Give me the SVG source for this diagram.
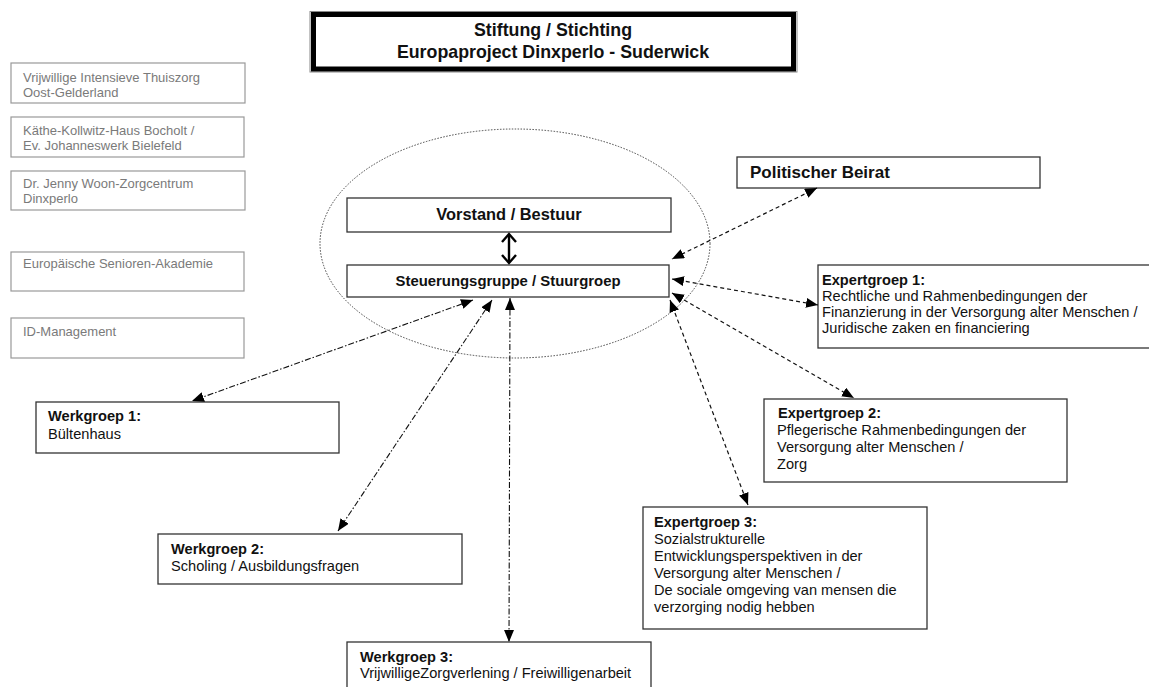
<svg xmlns="http://www.w3.org/2000/svg" width="1149" height="687" viewBox="0 0 1149 687">
<style>
text{font-family:"Liberation Sans",Arial,sans-serif;fill:#111}
.g rect{fill:#fff;stroke:#999;stroke-width:1.2}
.g text{fill:#7a7a7a;font-size:13px}
.b rect{fill:#fff;stroke:#333;stroke-width:1.3}
.t{font-size:14.6px}
.h{font-size:14.6px;font-weight:bold}
.dash{fill:none;stroke:#111;stroke-width:1.2;stroke-dasharray:4 3}
.dd{fill:none;stroke:#111;stroke-width:1.1;stroke-dasharray:6 2 1.5 2}
</style>
<defs>
<marker id="ah" viewBox="0 0 12 10" refX="12" refY="5" markerWidth="12" markerHeight="10" markerUnits="userSpaceOnUse" orient="auto-start-reverse">
<path d="M0,0 L12,5 L0,10 z" fill="#000"/>
</marker>
<clipPath id="c3"><rect x="0" y="171" width="250" height="34"/></clipPath>
</defs>
<rect width="1149" height="687" fill="#fff"/>

<g id="title">
<rect x="310" y="11.5" width="487" height="60.5" fill="#fff" stroke="#888" stroke-width="1"/>
<rect x="313.5" y="14.5" width="480" height="54.5" fill="none" stroke="#000" stroke-width="5"/>
<text x="553" y="36" text-anchor="middle" style="font-size:17.8px;font-weight:bold">Stiftung / Stichting</text>
<text x="553" y="58" text-anchor="middle" style="font-size:17.8px;font-weight:bold">Europaproject Dinxperlo - Suderwick</text>
</g>

<g id="partner1" class="g"><rect x="11" y="63" width="234" height="40"/><text x="23" y="82">Vrijwillige Intensieve Thuiszorg</text><text x="23" y="97">Oost-Gelderland</text></g>
<g id="partner2" class="g"><rect x="11" y="117" width="233" height="40"/><text x="23" y="135">Käthe-Kollwitz-Haus Bocholt  /</text><text x="23" y="150">Ev. Johanneswerk Bielefeld</text></g>
<g id="partner3" class="g"><rect x="11" y="171" width="234" height="39"/><text x="23" y="188">Dr. Jenny Woon-Zorgcentrum</text><text x="23" y="203" clip-path="url(#c3)">Dinxperlo</text></g>
<g id="partner4" class="g"><rect x="11" y="252" width="233" height="39"/><text x="23" y="268">Europäische Senioren-Akademie</text></g>
<g id="partner5" class="g"><rect x="11" y="318" width="233" height="40"/><text x="23" y="336">ID-Management</text></g>

<g id="kern">
<ellipse cx="515" cy="243.5" rx="195" ry="114.5" fill="none" stroke="#444" stroke-width="1" stroke-dasharray="1.5 1.5"/>
</g>

<g id="vorstand" class="b"><rect x="347" y="198" width="324" height="34"/><text x="509" y="220" text-anchor="middle" style="font-size:16.4px;font-weight:bold">Vorstand / Bestuur</text></g>
<g id="steuerung" class="b"><rect x="347" y="265" width="322" height="32"/><text x="508" y="286" text-anchor="middle" style="font-size:14.9px;font-weight:bold">Steuerungsgruppe / Stuurgroep</text></g>

<g id="politisch" class="b"><rect x="737" y="157" width="303" height="31"/><text x="750" y="178" style="font-size:17px;font-weight:bold">Politischer Beirat</text></g>

<g id="expert1" class="b"><rect x="818" y="265" width="340" height="83"/>
<text x="822" y="285" class="h">Expertgroep 1:</text>
<text x="822" y="301" class="t">Rechtliche und Rahmenbedingungen der</text>
<text x="822" y="317" class="t">Finanzierung in der Versorgung alter Menschen /</text>
<text x="822" y="333" class="t">Juridische zaken en financiering</text></g>

<g id="expert2" class="b"><rect x="764" y="399" width="303" height="83"/>
<text x="778" y="418" class="h">Expertgroep 2:</text>
<text x="777" y="435" class="t">Pflegerische Rahmenbedingungen der</text>
<text x="777" y="452" class="t">Versorgung alter Menschen /</text>
<text x="777" y="469" class="t">Zorg</text></g>

<g id="expert3" class="b"><rect x="643" y="507" width="284" height="122"/>
<text x="654" y="527" class="h">Expertgroep 3:</text>
<text x="654" y="544" class="t">Sozialstrukturelle</text>
<text x="654" y="561" class="t">Entwicklungsperspektiven in der</text>
<text x="654" y="578" class="t">Versorgung alter Menschen /</text>
<text x="654" y="595" class="t">De sociale omgeving van mensen die</text>
<text x="654" y="612" class="t">verzorging nodig hebben</text></g>

<g id="werk1" class="b"><rect x="36" y="402" width="303" height="51"/>
<text x="48" y="421" class="h">Werkgroep 1:</text>
<text x="48" y="439" class="t">Bültenhaus</text></g>

<g id="werk2" class="b"><rect x="158" y="534" width="304" height="50"/>
<text x="171" y="554" class="h">Werkgroep 2:</text>
<text x="171" y="571" class="t">Scholing / Ausbildungsfragen</text></g>

<g id="werk3" class="b"><rect x="347" y="642" width="304" height="60"/>
<text x="360" y="662" class="h">Werkgroep 3:</text>
<text x="360" y="678" class="t">VrijwilligeZorgverlening / Freiwilligenarbeit</text></g>

<g id="connectors">
<g fill="none" stroke="#000" stroke-width="2.4">
<line x1="509" y1="235" x2="509" y2="262"/>
<polyline points="502,242 509,234 516,242"/>
<polyline points="502,255 509,263 516,255"/>
</g>
<line class="dash" x1="817" y1="188" x2="672" y2="259" marker-start="url(#ah)" marker-end="url(#ah)"/>
<line class="dash" x1="672" y1="279" x2="818" y2="305" marker-start="url(#ah)" marker-end="url(#ah)"/>
<line class="dash" x1="672" y1="293" x2="854" y2="398" marker-start="url(#ah)" marker-end="url(#ah)"/>
<line class="dash" x1="670" y1="300" x2="748" y2="505" marker-start="url(#ah)" marker-end="url(#ah)"/>
<line class="dd" x1="510" y1="298" x2="509" y2="642" marker-start="url(#ah)" marker-end="url(#ah)"/>
<line class="dd" x1="492" y1="300" x2="338" y2="531" marker-start="url(#ah)" marker-end="url(#ah)"/>
<line class="dd" x1="473" y1="300" x2="192" y2="401" marker-start="url(#ah)" marker-end="url(#ah)"/>
</g>
</svg>
